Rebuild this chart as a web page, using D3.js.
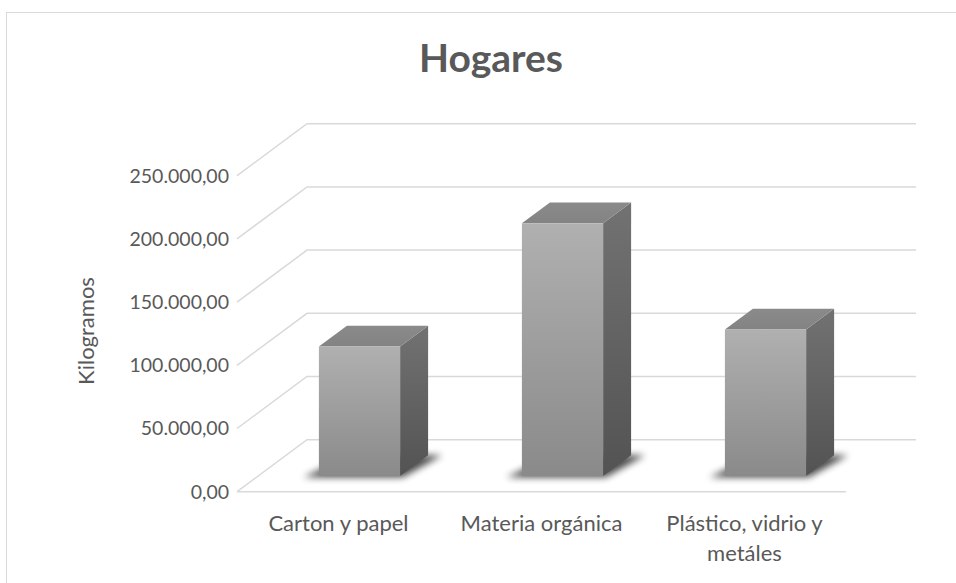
<!DOCTYPE html>
<html><head><meta charset="utf-8">
<script src="https://cdn.jsdelivr.net/npm/d3@7/dist/d3.min.js"></script>
<style>html,body{margin:0;padding:0;background:#fff;}svg{display:block;}</style>
</head><body>
<script>
const title = "Hogares";
const yAxisTitle = "Kilogramos";
const categories = ["Carton y papel", "Materia orgánica", "Plástico, vidrio y metáles"];
const categoryLines = [["Carton y papel"], ["Materia orgánica"], ["Plástico, vidrio y", "metáles"]];
const values = [102500, 200000, 116000];
const yTicks = [0, 50000, 100000, 150000, 200000, 250000];
const yTickLabels = ["0,00", "50.000,00", "100.000,00", "150.000,00", "200.000,00", "250.000,00"];

const W = 956, H = 583;
const svg = d3.select("body").append("svg").attr("width", W).attr("height", H);
const FONT = "Lato, 'Open Sans', sans-serif";
const TXT = "#595959";

// chart border
svg.append("rect").attr("x", 6.5).attr("y", 12.5).attr("width", W + 20).attr("height", H + 20)
  .attr("fill", "#fff").attr("stroke", "#d9d9d9").attr("stroke-width", 1);

// depth vector (oblique projection)
const DX = 70, DY = 52;
const x = d3.scaleBand().domain(categories).range([237, 846]).paddingInner(0.6).paddingOuter(0.3);
const y = d3.scaleLinear().domain([0, 250000]).range([491.7, 175.7]);
const P = (xf, v, d) => [xf + d * DX, y(v) - d * DY];

const defs = svg.append("defs");
function grad(id, c1, c2) {
  const g = defs.append("linearGradient").attr("id", id).attr("x1", 0).attr("y1", 0).attr("x2", 0).attr("y2", 1);
  g.append("stop").attr("offset", "0%").attr("stop-color", c1);
  g.append("stop").attr("offset", "100%").attr("stop-color", c2);
}
grad("gFront", "#b0b0b0", "#8a8a8a");
grad("gSide", "#727272", "#535353");
grad("gTop", "#8a8a8a", "#838383");
defs.append("filter").attr("id", "blur").attr("x", "-50%").attr("y", "-50%").attr("width", "200%").attr("height", "200%")
  .append("feGaussianBlur").attr("stdDeviation", 3.5);

const grid = svg.append("g").attr("stroke", "#d9d9d9").attr("stroke-width", 1.5).attr("fill", "none");
const x0 = 237, x1 = 846;
yTicks.forEach(t => {
  const a = P(x0, t, 0), b = P(x0, t, 1), c = P(x1, t, 1);
  grid.append("path").attr("d", d3.line()([a, b, c]));
});
// floor front edge
grid.append("path").attr("d", d3.line()([P(x0, 0, 0), P(x1, 0, 0)]));

// axis labels
svg.append("g").selectAll("text").data(yTicks).join("text")
  .attr("x", 229).attr("y", t => y(t)).attr("dy", "0.35em").attr("text-anchor", "end")
  .attr("font-family", FONT).attr("font-size", 19.5).attr("fill", TXT)
  .text((t, i) => yTickLabels[i]);

svg.append("text").attr("transform", "translate(94,331) rotate(-90)")
  .attr("text-anchor", "middle").attr("font-family", FONT).attr("font-size", 22).attr("fill", TXT)
  .text(yAxisTitle);

svg.append("text").attr("x", 491).attr("y", 72).attr("text-anchor", "middle")
  .attr("font-family", FONT).attr("font-weight", "bold").attr("font-size", 39).attr("fill", TXT)
  .text(title);

// category labels
const cl = svg.append("g");
categories.forEach((c, i) => {
  const cx = x(c) + x.bandwidth() / 2;
  categoryLines[i].forEach((ln, j) => {
    cl.append("text").attr("x", cx).attr("y", 523 + j * 30).attr("dy", "0.35em").attr("text-anchor", "middle")
      .attr("font-family", FONT).attr("font-size", 22).attr("fill", TXT).text(ln);
  });
});

// bars
const d0 = 0.3, d1 = 0.7;
const bars = svg.append("g");
categories.forEach((c, i) => {
  const xl = x(c), xr = x(c) + x.bandwidth(), v = values[i];
  const g = bars.append("g");
  // shadow
  const e = 14;
  g.append("path").attr("d", d3.line()([P(xl - e, 0, d0 - 0.02), P(xr + 4, 0, d0 - 0.02), P(xr + e, 0, d1), P(xl + 4, 0, d1)]) + "Z")
    .attr("fill", "#000").attr("opacity", 0.7).attr("filter", "url(#blur)");
  // side
  g.append("path").attr("d", d3.line()([P(xr, 0, d0), P(xr, v, d0), P(xr, v, d1), P(xr, 0, d1)]) + "Z")
    .attr("fill", "url(#gSide)");
  // top
  g.append("path").attr("d", d3.line()([P(xl, v, d0), P(xr, v, d0), P(xr, v, d1), P(xl, v, d1)]) + "Z")
    .attr("fill", "url(#gTop)");
  // front
  const [fx, fy] = P(xl, v, d0);
  const [, by] = P(xl, 0, d0);
  g.append("rect").attr("x", fx).attr("y", fy).attr("width", x.bandwidth()).attr("height", by - fy)
    .attr("fill", "url(#gFront)");
});
</script>
</body></html>
